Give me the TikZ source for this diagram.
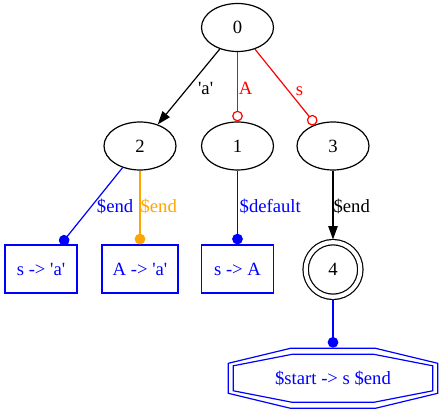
\documentclass[tikz,border=0pt]{standalone}
\usepackage{fontspec}
\setmainfont{Liberation Serif}[Ligatures=TeXOff]
\usetikzlibrary{shapes.geometric}
\usetikzlibrary{arrows.meta}
\definecolor{gvorange}{RGB}{255,165,0}

\begin{document}
\begin{tikzpicture}[x=0.75pt,y=-0.75pt,line width=0.9pt,
		font=\fontsize{14}{16}\selectfont,
		item/.style={ellipse,draw,minimum width=54pt,minimum height=36pt,inner sep=0pt},
		rulebox/.style={rectangle,draw=blue,text=blue,minimum width=54pt,minimum height=36pt,inner xsep=8pt},
		lbl/.style={inner sep=0pt},
		tri/.style={-{Triangle[length=10pt,width=7pt]}},
		odot/.style={-{Circle[open,length=8pt]}},
		fdot/.style={-{Circle[length=8pt]}}]
%		\draw[very thin,densely dashed] (0,0) grid[step=20] (444,413);
		\useasboundingbox (0,0) rectangle (444,413);
		\node [item] (n0) at (237.5,27.5) {0};
		\node [item] (n2) at (140,146) {2};
		\node [item] (n1) at (237.5,146) {1};
		\node [item] (n3) at (333,146) {3};
		\node [circle,draw,double,double distance=3.1pt,minimum size=41pt,inner sep=0pt,outer sep=2pt] (n4) at (333,269.5) {4};
		\node [rulebox] (r1) at (41,269) {s -> 'a'};
		\node [rulebox] (r2) at (140,269) {A -> 'a'};
		\node [rulebox] (r3) at (237.5,269) {s -> A};
		\node [text=blue,minimum width=158pt,minimum height=45pt,inner sep=0pt] (acc) at (333,378.3) {\$start -> s \$end};
		\begin{scope}[shift={(acc)},blue]
			\draw (-42.5,-30)--(42.5,-30)--(104.7,-15)--(104.7,15)--(42.5,30)
			--(-42.5,30)--(-104.7,15)--(-104.7,-15)--cycle;
			\draw (-40.8,-24)--(40.8,-24)--(99.7,-12.5)--(99.7,12.5)--(40.8,24)
			--(-40.8,24)--(-99.7,12.5)--(-99.7,-12.5)--cycle;
		\end{scope}
		\draw [tri] (n0)--
		node [lbl,right=7.8pt,pos=0.526] {'a'}
		(n2);
		\draw [red,odot] (n0)--
		node [lbl,right=0.5pt,pos=0.53] {A}
		(n1);
		\draw [red,odot] (n0)--
		node [lbl,right=5pt,pos=0.554] {s}
		(n3);
		\draw [blue,fdot] (n2)--
		node [lbl,right=3.5pt,pos=0.5] {\$end}
		(r1);
		\draw [gvorange,fdot] (n2)--
		node [lbl,right=0pt,pos=0.48] {\$end}
		(r2);
		\draw [blue,fdot] (n1)--
		node [lbl,right=1.2pt,pos=0.48] {\$default}
		(r3);
		\draw [tri] (n3)--
		node [lbl,right=0pt,pos=0.516] {\$end}
		(n4);
		\draw [blue,fdot] (n4)--(acc);
	\end{tikzpicture}
\end{document}
